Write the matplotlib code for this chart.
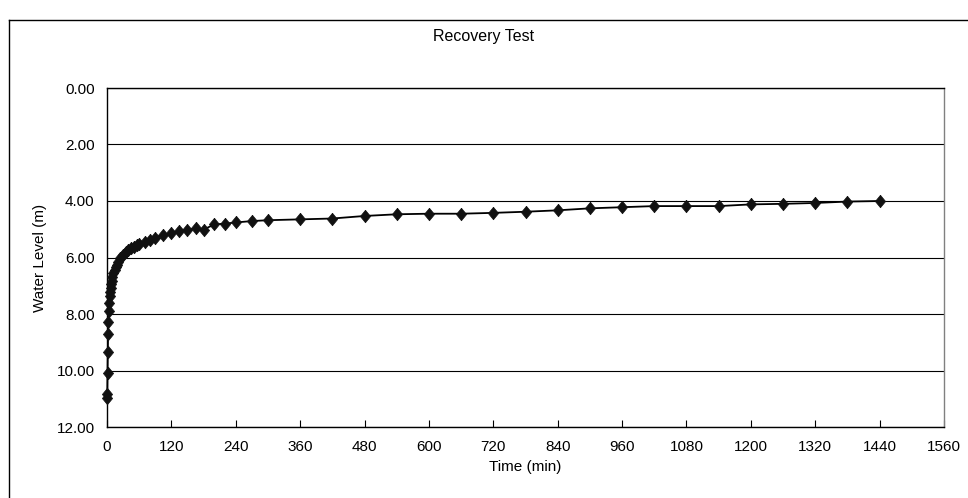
import matplotlib
matplotlib.use("Agg")
import matplotlib.pyplot as plt
from matplotlib.lines import Line2D

plt.rcParams['font.family'] = ['Liberation Sans', 'DejaVu Sans']

title = "Recovery Test"
x_label = "Time (min)"
y_label = "Water Level (m)"

time_min = [0, 0.5, 1, 1.5, 2, 2.5, 3, 4, 5, 6, 7, 8, 9, 10, 12, 14, 16, 18, 20,
            25, 30, 35, 40, 45, 50, 55, 60, 70, 80, 90, 105, 120, 135, 150, 165,
            180, 200, 220, 240, 270, 300, 360, 420, 480, 540, 600, 660, 720, 780,
            840, 900, 960, 1020, 1080, 1140, 1200, 1260, 1320, 1380, 1440]
water_level = [10.98, 10.82, 10.10, 9.36, 8.71, 8.27, 7.88, 7.60, 7.38, 7.22, 7.08,
               6.95, 6.82, 6.70, 6.55, 6.45, 6.35, 6.25, 6.17,
               6.02, 5.92, 5.82, 5.74, 5.68, 5.62, 5.57, 5.52, 5.44, 5.37, 5.30,
               5.22, 5.15, 5.05, 5.02, 4.97,
               5.01, 4.83, 4.80, 4.76, 4.71, 4.68, 4.65, 4.62, 4.53, 4.47, 4.45,
               4.45, 4.42, 4.38, 4.33, 4.26, 4.22, 4.18, 4.18, 4.18, 4.12, 4.10,
               4.07, 4.02, 4.00]

x_ticks = list(range(0, 1561, 120))
y_ticks = [0, 2, 4, 6, 8, 10, 12]

W, H = 968, 498
fig = plt.figure(figsize=(W / 100, H / 100), dpi=100)
ax = fig.add_axes([107 / W, 1 - 427 / H, (944 - 107) / W, (427 - 88) / H])

diamond = [(0, 1), (0.82, 0), (0, -1), (-0.82, 0), (0, 1)]
ax.plot(time_min, water_level, color='black', lw=1.3, marker=diamond,
        markersize=9, markerfacecolor='#111111', markeredgecolor='#111111',
        markeredgewidth=0.5, zorder=3, clip_on=False)

ax.set_xlim(0, 1560)
ax.set_ylim(12, 0)
ax.set_xticks(x_ticks)
ax.set_xticklabels([str(v) for v in x_ticks])
ax.set_yticks(y_ticks)
ax.set_yticklabels([f"{v:.2f}" for v in y_ticks])
ax.tick_params(axis='x', direction='in', length=5, width=0.8, pad=9, labelsize=11)
ax.tick_params(axis='y', direction='in', length=0, pad=9, labelsize=11)

ax.yaxis.grid(True, color='black', lw=0.8)
ax.set_axisbelow(True)
for s in ['left', 'bottom', 'top']:
    ax.spines[s].set_color('black')
    ax.spines[s].set_linewidth(1.0)
ax.spines['right'].set_color('#808080')
ax.spines['right'].set_linewidth(1.0)

ax.set_xlabel(x_label, fontsize=11, labelpad=5)
ax.set_ylabel(y_label, fontsize=11, labelpad=7)
fig.text(484 / W, 1 - 37 / H, title, ha='center', va='center', fontsize=11.5)

# outer chart border (left and top visible)
fig.add_artist(Line2D([9 / W, 9 / W], [0, 1 - 20 / H], transform=fig.transFigure,
                      color='black', lw=1.0))
fig.add_artist(Line2D([9 / W, 1], [1 - 20 / H, 1 - 20 / H], transform=fig.transFigure,
                      color='black', lw=1.0))

fig.savefig("out.png", dpi=100)
